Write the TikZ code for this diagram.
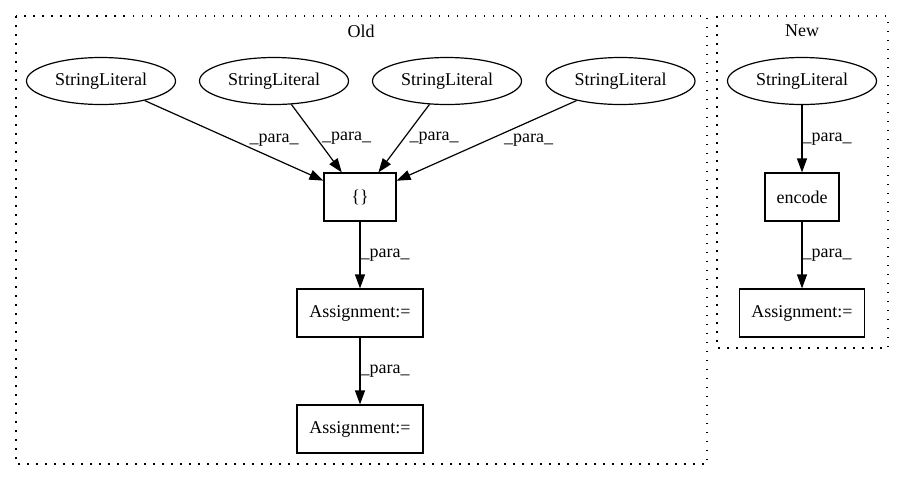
\documentclass[tikz,border=0pt]{standalone}
\usepackage{fontspec}
\setmainfont{Liberation Serif}
\usetikzlibrary{arrows.meta,shapes.geometric}
\begin{document}
\begin{tikzpicture}[x=1pt, y=-1pt, ->, >={Triangle[length=14pt,width=10pt]}, line width=1.2pt, font=\fontsize{18}{21}\selectfont]
            \tikzstyle{literal} = [ellipse, draw, minimum width=149pt, minimum height=47pt, inner sep=0pt]
            \tikzstyle{op} = [rectangle, draw, minimum height=48pt, inner sep=0pt]
            \tikzstyle{cluster} = [-, draw, dash pattern=on 1.5pt off 7.5pt]
            \tikzstyle{para} = [pos=0.5, anchor=west, inner sep=0pt]

            \useasboundingbox (0,0) rectangle (904,480);

            % Clusters
            \draw[cluster] (16,16) rectangle (707,464);
            \draw[cluster] (717,16) rectangle (888,348);
            \node (old) at (361,31) {Old};
            \node (new) at (802,31) {New};

            % Nodes
            \node[literal] (lit1) at (101,81) {StringLiteral};
            \node[literal] (lit2) at (274,81) {StringLiteral};
            \node[literal] (lit3) at (447,81) {StringLiteral};
            \node[literal] (lit4) at (620.5,81) {StringLiteral};
            \node[op, minimum width=72pt] (brace) at (360,197) {\{\}};
            \node[op, minimum width=126pt] (assign1) at (360,313) {Assignment:=};
            \node[op, minimum width=126pt] (assign2) at (360,429) {Assignment:=};

            \node[literal] (litnew) at (802,81) {StringLiteral};
            \node[op, minimum width=74pt] (encode) at (802,197) {encode};
            \node[op, minimum width=125pt] (assignnew) at (802,313) {Assignment:=};

            % Edges
            \path (lit1) edge node[para, xshift=15pt] {\_para\_} (brace);
            \path (lit2) edge node[para, xshift=5pt] {\_para\_} (brace);
            \path (lit3) edge node[para, xshift=5pt] {\_para\_} (brace);
            \path (lit4) edge node[para, xshift=17pt] {\_para\_} (brace);
            \path (brace) edge node[para] {\_para\_} (assign1);
            \path (assign1) edge node[para] {\_para\_} (assign2);
            \path (litnew) edge node[para] {\_para\_} (encode);
            \path (encode) edge node[para] {\_para\_} (assignnew);

        \end{tikzpicture}
\end{document}
